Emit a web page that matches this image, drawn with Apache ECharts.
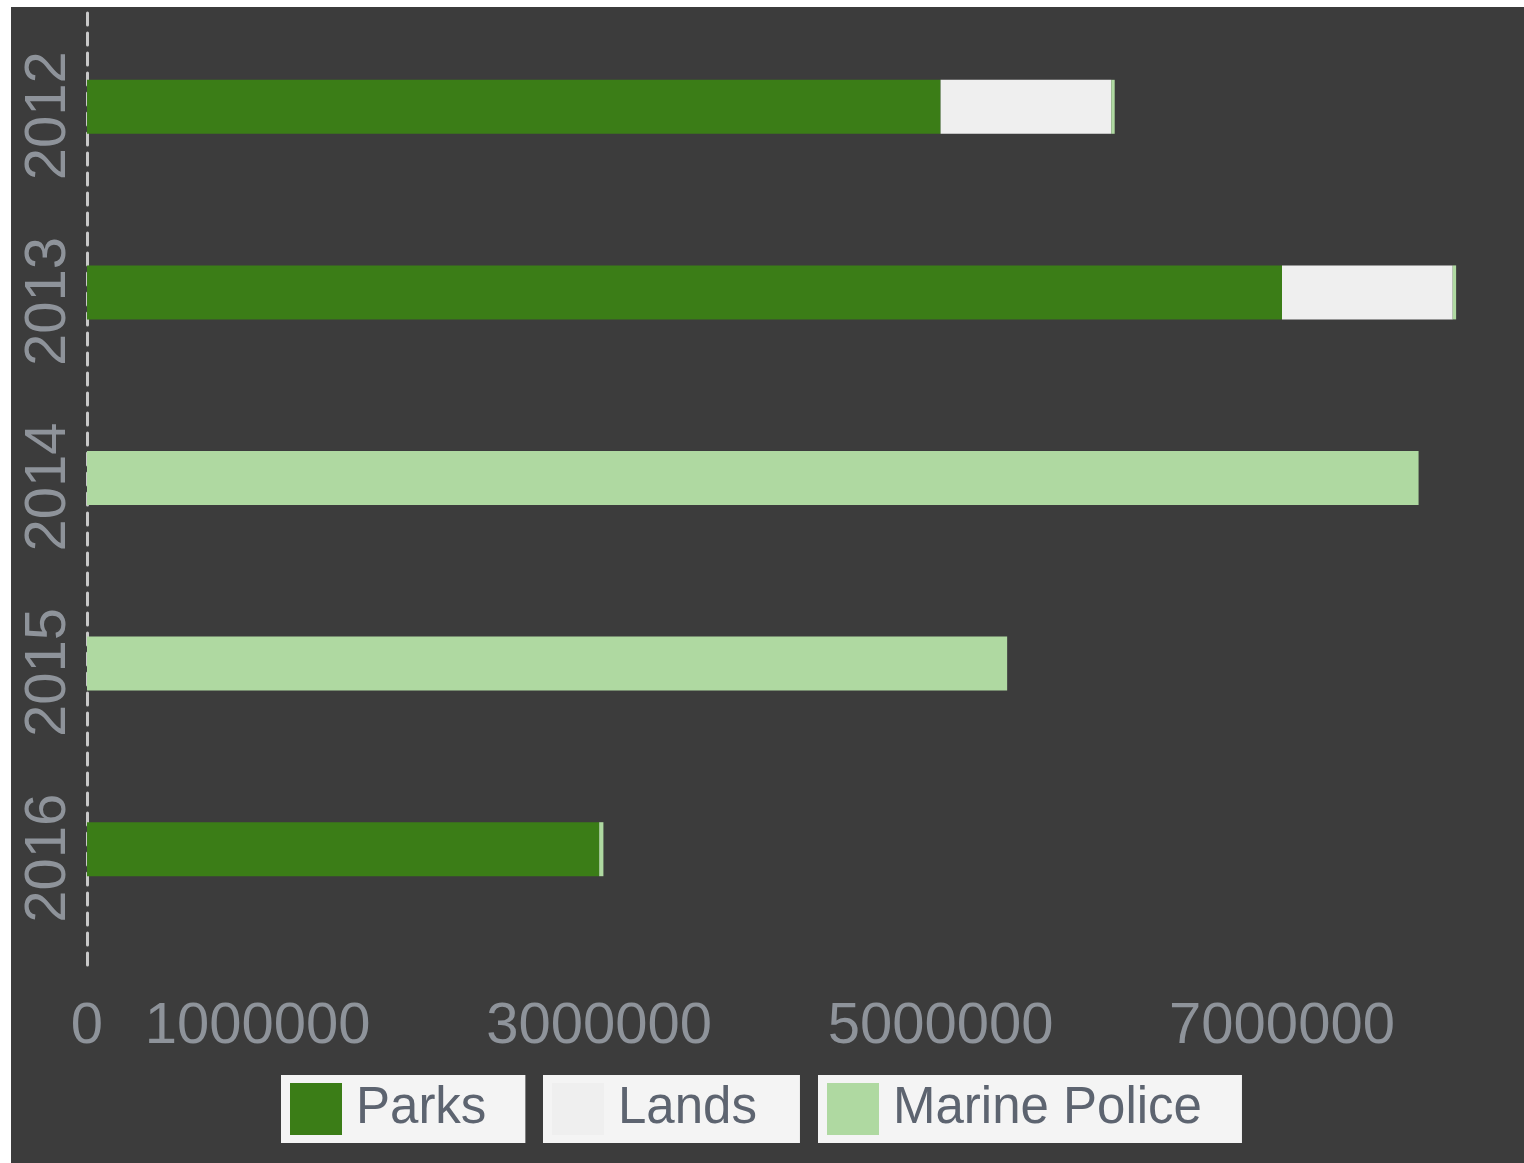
<!DOCTYPE html>
<html>
<head>
<meta charset="utf-8">
<script src="https://cdn.jsdelivr.net/npm/echarts@6/dist/echarts.min.js"></script>
<style>
html,body{margin:0;padding:0;background:#ffffff;width:1524px;height:1163px;overflow:hidden;}
#chart{position:absolute;left:11px;top:7px;width:1513px;height:1156px;background:#3c3c3c;}
</style>
</head>
<body>
<div id="chart"></div>
<script>
const years = ['2012', '2013', '2014', '2015', '2016'];
const seriesNames = ['Parks', 'Lands', 'Marine Police'];
const parks = [5000000, 7000000, 0, 0, 3000000];
const lands = [1000000, 1000000, 0, 0, 0];
const marinePolice = [20000, 20000, 7800000, 5390000, 25000];
const shownTicks = [0, 1000000, 3000000, 5000000, 7000000];

const colors = ['#3b7d17', '#efefef', '#afd9a1'];
const values = [parks, lands, marinePolice];
const axisTextColor = '#8e939a';
const legendTextColor = '#5d6470';
const font = '"Liberation Sans", Arial, sans-serif';

const chart = echarts.init(document.getElementById('chart'));

function legendFor(name, left, padRight) {
  return {
    data: [name],
    left: left,
    top: 1068,
    orient: 'horizontal',
    backgroundColor: '#f4f4f4',
    padding: [8, padRight, 8, 9],
    itemWidth: 52,
    itemHeight: 52,
    icon: 'rect',
    selectedMode: false,
    textStyle: { fontSize: 51, color: legendTextColor, fontFamily: font, padding: [6, 0, 0, 9] }
  };
}

chart.setOption({
  backgroundColor: '#3c3c3c',
  animation: false,
  grid: [
    { left: 76, right: 1, top: 7, bottom: 221 },
    { left: 76, right: 1, top: 1, bottom: 198 }
  ],
  xAxis: [
    {
      type: 'value',
      gridIndex: 0,
      min: 0,
      max: 8400000,
      interval: 1000000,
      splitLine: { show: false },
      axisLine: { show: false },
      axisTick: { show: false },
      axisLabel: {
        color: axisTextColor,
        fontSize: 58,
        fontFamily: font,
        margin: 56,
        hideOverlap: false,
        formatter: function (v) { return shownTicks.indexOf(v) >= 0 ? String(v) : ''; }
      }
    },
    { type: 'value', gridIndex: 1, show: false }
  ],
  yAxis: [
    {
      type: 'category',
      gridIndex: 0,
      data: years,
      inverse: true,
      axisLine: { show: false },
      axisTick: { show: false },
      axisLabel: {
        rotate: 90,
        color: axisTextColor,
        fontSize: 58,
        fontFamily: font,
        margin: 9,
        padding: [0, 18, 0, 0]
      }
    },
    {
      type: 'value',
      gridIndex: 1,
      axisLine: { show: true, lineStyle: { color: '#c9c9c9', width: 3, type: [12, 8] } },
      axisTick: { show: false },
      axisLabel: { show: false },
      splitLine: { show: false }
    }
  ],
  legend: [
    legendFor('Parks', 270, 39),
    legendFor('Lands', 532, 43),
    legendFor('Marine Police', 807, 40)
  ],
  series: seriesNames.map(function (n, i) {
    return {
      name: n,
      type: 'bar',
      stack: 'total',
      xAxisIndex: 0,
      yAxisIndex: 0,
      barWidth: 54,
      itemStyle: { color: colors[i] },
      data: values[i]
    };
  })
});
</script>
</body>
</html>
